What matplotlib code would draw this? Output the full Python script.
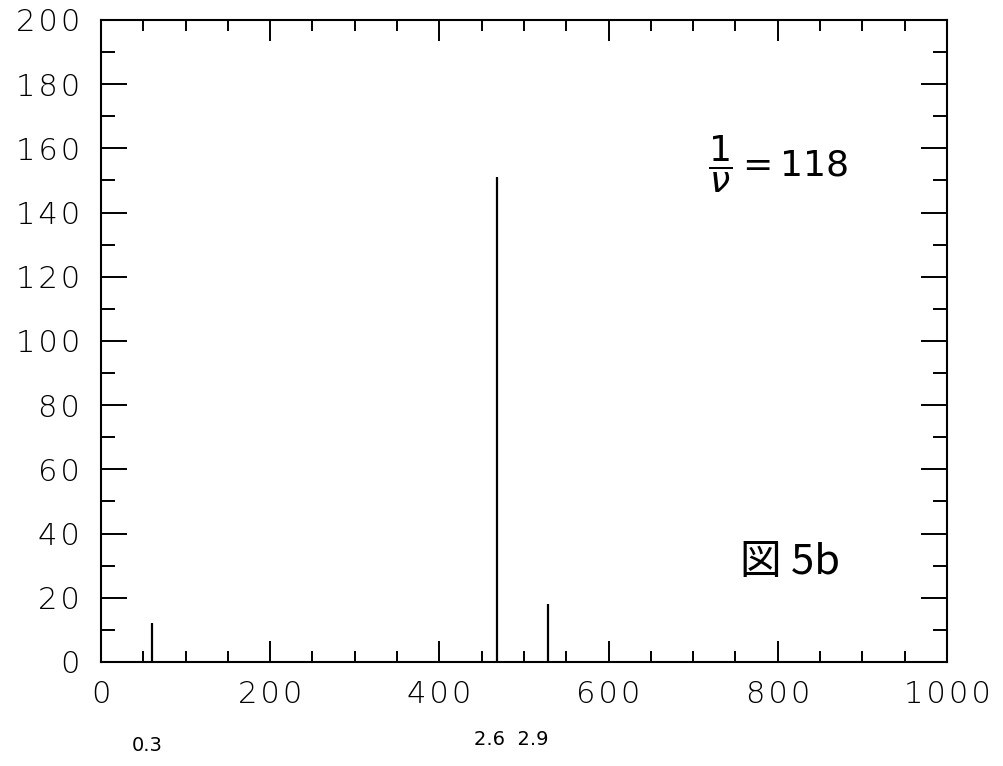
import matplotlib
matplotlib.use("Agg")
import matplotlib.pyplot as plt
from matplotlib.ticker import MultipleLocator, FuncFormatter

# spike spectrum
peak_x = [60, 468, 528]
peak_h = [12, 151, 18]

x_ticks = [0, 200, 400, 600, 800, 1000]
y_ticks = [0, 20, 40, 60, 80, 100, 120, 140, 160, 180, 200]

fig = plt.figure(figsize=(10.04, 7.66), dpi=100)
ax = fig.add_axes([0.1006, 0.1358, 0.8426, 0.8381])

ax.vlines(peak_x, 0, peak_h, color="black", linewidth=1.6)

ax.set_xlim(0, 1000)
ax.set_ylim(0, 200)
ax.set_xticks(x_ticks)
ax.set_yticks(y_ticks)
ax.xaxis.set_minor_locator(MultipleLocator(50))
ax.yaxis.set_minor_locator(MultipleLocator(10))

# plotter-style wide digits: hair space between characters
spaced = FuncFormatter(lambda v, pos: "\u200a".join(str(int(v))))
ax.xaxis.set_major_formatter(spaced)
ax.yaxis.set_major_formatter(spaced)

ax.tick_params(which="both", direction="in", top=True, right=True, width=1.4, colors="black")
ax.tick_params(axis="x", which="major", length=15, pad=13)
ax.tick_params(axis="x", which="minor", length=8)
ax.tick_params(axis="y", which="major", length=19, pad=15)
ax.tick_params(axis="y", which="minor", length=10)

for lab in ax.get_xticklabels() + ax.get_yticklabels():
    lab.set_fontfamily("DejaVu Sans")
    lab.set_fontweight("light")
    lab.set_fontsize(22)

for sp in ax.spines.values():
    sp.set_linewidth(1.5)

# handwritten notes on the sheet
ax.text(800, 155, r"$\dfrac{1}{\nu}=118$", fontsize=26, ha="center", va="center")
ax.text(814, 31, "図 5b", fontsize=30, ha="center", va="center",
        family=["Noto Sans CJK JP", "DejaVu Sans"])
ax.text(55, -26, "0.3", fontsize=14, ha="center", va="center", clip_on=False)
ax.text(485, -24, "2.6  2.9", fontsize=14, ha="center", va="center", clip_on=False)

fig.savefig("out.png", dpi=100)
